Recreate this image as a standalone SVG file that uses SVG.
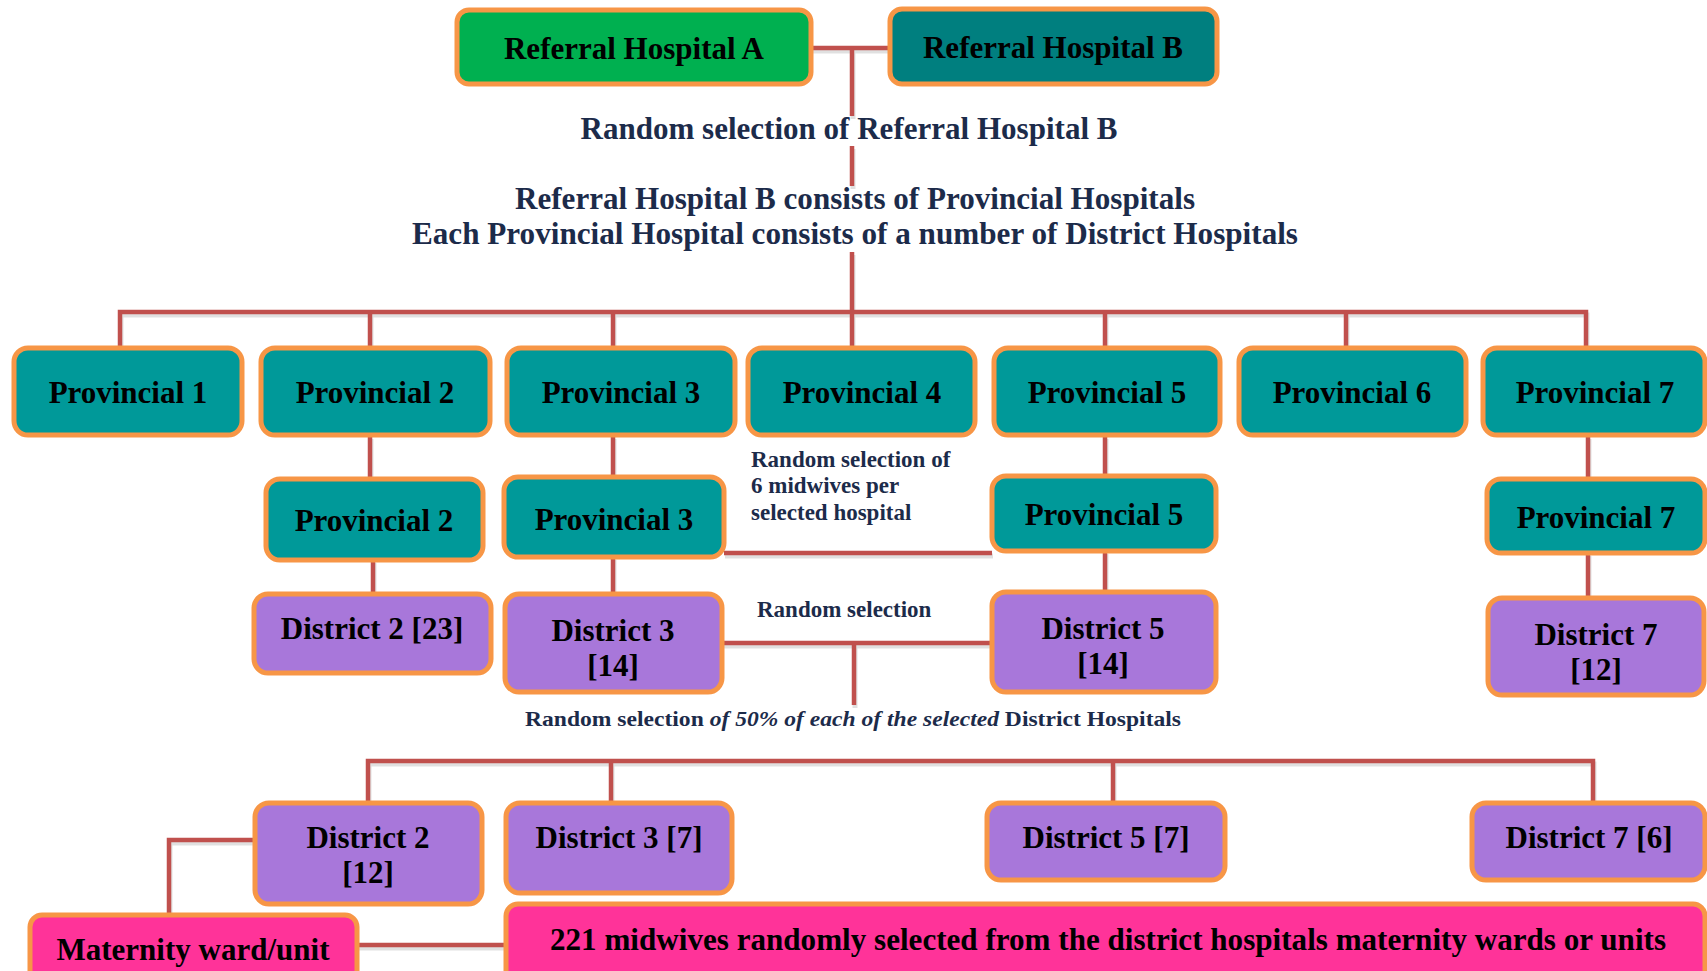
<svg xmlns="http://www.w3.org/2000/svg" width="1707" height="971" viewBox="0 0 1707 971">
  <defs>
    <style>
      .box { stroke: #F79646; stroke-width: 5; }
      .refA { fill: #00B050; }
      .refB { fill: #007F7F; }
      .prov { fill: #009999; }
      .dist { fill: #A877DA; }
      .ward { fill: #FF3399; }
      .lbl { font-family: "Liberation Serif", "Times New Roman", serif; font-weight: bold; font-size: 31px; fill: #000; text-anchor: middle; }
      .note { font-family: "Liberation Serif", "Times New Roman", serif; font-weight: bold; fill: #1C2B4A; }
      .link { fill: none; stroke: #C0504D; stroke-width: 4.5; }
      .shadow { fill: none; stroke: #000; stroke-opacity: 0.12; stroke-width: 5; }
    </style>
  </defs>
  <rect width="1707" height="971" fill="#FFFFFF"/>

  <!-- connector lines -->
  <g id="connectors">
    <g transform="translate(1,3)">
      <path class="shadow" d="M811,48 H890 M852,48 V116 M852,146 V186 M852,252 V348 M120,348 V312 H1586 V348 M370,312 V348 M613,312 V348 M1105,312 V348 M1346,312 V348 M370,436 V479 M613,436 V477 M1105,436 V476 M1588,436 V479 M373,560 V594 M613,557 V594 M1105,551 V592 M1588,553 V598 M724,553 H992 M722,643 H992 M854,643 V705 M368,803 V761 H1593 V803 M611,761 V803 M1113,761 V803 M255,840 H169 V915 M357,945 H506"/>
    </g>
    <path class="link" d="M811,48 H890"/>
    <path class="link" d="M852,48 V116 M852,146 V186 M852,252 V348"/>
    <path class="link" d="M120,348 V312 H1586 V348"/>
    <path class="link" d="M370,312 V348 M613,312 V348 M1105,312 V348 M1346,312 V348"/>
    <path class="link" d="M370,436 V479 M613,436 V477 M1105,436 V476 M1588,436 V479"/>
    <path class="link" d="M373,560 V594 M613,557 V594 M1105,551 V592 M1588,553 V598"/>
    <path class="link" d="M724,553 H992"/>
    <path class="link" d="M722,643 H992 M854,643 V705"/>
    <path class="link" d="M368,803 V761 H1593 V803 M611,761 V803 M1113,761 V803"/>
    <path class="link" d="M255,840 H169 V915"/>
    <path class="link" d="M357,945 H506"/>
  </g>

  <!-- free-standing annotations -->
  <g id="notes">
    <text class="note" x="849" y="139" font-size="31" text-anchor="middle" textLength="537" lengthAdjust="spacingAndGlyphs">Random selection of Referral Hospital B</text>
    <text class="note" x="855" y="209" font-size="31" text-anchor="middle" textLength="680" lengthAdjust="spacingAndGlyphs">Referral Hospital B consists of Provincial Hospitals</text>
    <text class="note" x="855" y="244" font-size="31" text-anchor="middle" textLength="886" lengthAdjust="spacingAndGlyphs">Each Provincial Hospital consists of a number of District Hospitals</text>
    <text class="note" x="751" y="467" font-size="23">Random selection of</text>
    <text class="note" x="751" y="493" font-size="23">6 midwives per</text>
    <text class="note" x="751" y="520" font-size="23">selected hospital</text>
    <text class="note" x="757" y="617" font-size="23">Random selection</text>
    <text class="note" x="525" y="726" font-size="22" textLength="656" lengthAdjust="spacingAndGlyphs">Random selection <tspan font-style="italic">of 50% of each of the selected</tspan> District Hospitals</text>
  </g>

  <g id="referral-a">
    <rect class="box refA" x="457" y="10" width="354" height="74" rx="12"/>
    <text class="lbl" x="634" y="59">Referral Hospital A</text>
  </g>
  <g id="referral-b">
    <rect class="box refB" x="890" y="9" width="327" height="75" rx="12"/>
    <text class="lbl" x="1053" y="58">Referral Hospital B</text>
  </g>

  <g id="provincial-1">
    <rect class="box prov" x="14" y="348" width="228" height="87" rx="14"/>
    <text class="lbl" x="128" y="403">Provincial 1</text>
  </g>
  <g id="provincial-2">
    <rect class="box prov" x="261" y="348" width="229" height="87" rx="14"/>
    <text class="lbl" x="375" y="403">Provincial 2</text>
  </g>
  <g id="provincial-3">
    <rect class="box prov" x="507" y="348" width="228" height="87" rx="14"/>
    <text class="lbl" x="621" y="403">Provincial 3</text>
  </g>
  <g id="provincial-4">
    <rect class="box prov" x="748" y="348" width="227" height="87" rx="14"/>
    <text class="lbl" x="862" y="403">Provincial 4</text>
  </g>
  <g id="provincial-5">
    <rect class="box prov" x="994" y="348" width="226" height="87" rx="14"/>
    <text class="lbl" x="1107" y="403">Provincial 5</text>
  </g>
  <g id="provincial-6">
    <rect class="box prov" x="1239" y="348" width="227" height="87" rx="14"/>
    <text class="lbl" x="1352" y="403">Provincial 6</text>
  </g>
  <g id="provincial-7">
    <rect class="box prov" x="1483" y="348" width="222" height="87" rx="14"/>
    <text class="lbl" x="1595" y="403">Provincial 7</text>
  </g>

  <g id="provincial-2-sel">
    <rect class="box prov" x="266" y="479" width="217" height="81" rx="14"/>
    <text class="lbl" x="374" y="531">Provincial 2</text>
  </g>
  <g id="provincial-3-sel">
    <rect class="box prov" x="504" y="477" width="220" height="80" rx="14"/>
    <text class="lbl" x="614" y="530">Provincial 3</text>
  </g>
  <g id="provincial-5-sel">
    <rect class="box prov" x="992" y="476" width="224" height="75" rx="14"/>
    <text class="lbl" x="1104" y="525">Provincial 5</text>
  </g>
  <g id="provincial-7-sel">
    <rect class="box prov" x="1487" y="479" width="218" height="74" rx="14"/>
    <text class="lbl" x="1596" y="528">Provincial 7</text>
  </g>

  <g id="district-2-23">
    <rect class="box dist" x="254" y="594" width="237" height="79" rx="14"/>
    <text class="lbl" x="372" y="639">District 2 [23]</text>
  </g>
  <g id="district-3-14">
    <rect class="box dist" x="505" y="594" width="217" height="98" rx="14"/>
    <text class="lbl" x="613" y="641">District 3</text>
    <text class="lbl" x="613" y="676">[14]</text>
  </g>
  <g id="district-5-14">
    <rect class="box dist" x="992" y="592" width="224" height="100" rx="14"/>
    <text class="lbl" x="1103" y="639">District 5</text>
    <text class="lbl" x="1103" y="674">[14]</text>
  </g>
  <g id="district-7-12">
    <rect class="box dist" x="1488" y="598" width="216" height="97" rx="14"/>
    <text class="lbl" x="1596" y="645">District 7</text>
    <text class="lbl" x="1596" y="680">[12]</text>
  </g>

  <g id="district-2-12">
    <rect class="box dist" x="255" y="803" width="227" height="101" rx="14"/>
    <text class="lbl" x="368" y="848">District 2</text>
    <text class="lbl" x="368" y="883">[12]</text>
  </g>
  <g id="district-3-7">
    <rect class="box dist" x="506" y="803" width="226" height="90" rx="14"/>
    <text class="lbl" x="619" y="848">District 3 [7]</text>
  </g>
  <g id="district-5-7">
    <rect class="box dist" x="987" y="803" width="238" height="77" rx="14"/>
    <text class="lbl" x="1106" y="848">District 5 [7]</text>
  </g>
  <g id="district-7-6">
    <rect class="box dist" x="1472" y="803" width="233" height="77" rx="14"/>
    <text class="lbl" x="1589" y="848">District 7 [6]</text>
  </g>

  <g id="maternity-ward">
    <rect class="box ward" x="30" y="915" width="327" height="70" rx="12"/>
    <text class="lbl" x="193" y="960">Maternity ward/unit</text>
  </g>
  <g id="midwives-221">
    <rect class="box ward" x="506" y="904" width="1199" height="80" rx="12"/>
    <text class="lbl" x="1108" y="950" textLength="1116" lengthAdjust="spacingAndGlyphs">221 midwives randomly selected from the district hospitals maternity wards or units</text>
  </g>
</svg>
